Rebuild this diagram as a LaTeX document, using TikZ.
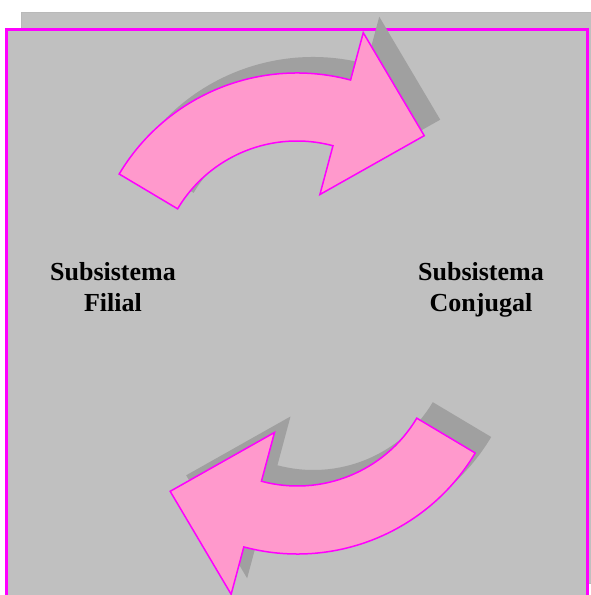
\documentclass[tikz,border=0pt]{standalone}
\usepackage{fontspec}
\setmainfont{Liberation Serif}
\usepackage{tikz}

\definecolor{panelgray}{RGB}{192,192,192}
\definecolor{framepink}{RGB}{255,0,255}
\definecolor{arrowpink}{RGB}{255,153,204}
\definecolor{shadowgray}{RGB}{160,160,160}

\tikzstyle{panel} = [fill=panelgray, draw=framepink, line width=3pt]
\tikzstyle{backpanel} = [fill=panelgray, draw=gray!55, line width=0.8pt]
\tikzstyle{bodyarrow} = [fill=arrowpink, draw=framepink, line width=1.5pt]
\tikzstyle{shadowarrow} = [fill=shadowgray]
\tikzstyle{subsys} = [align=center, inner sep=0pt, anchor=north, font=\bfseries\fontsize{26}{31}\selectfont]

\tikzset{bentarrow/.pic={
  \path[pic actions] (149.2:207) arc[start angle=149.2, end angle=75, radius=207]
    -- (75:256) -- (48.6:192.4) -- (75:88.5) -- (75:139)
    arc[start angle=75, end angle=149.2, radius=139] -- cycle;
}}

\begin{document}
\begin{tikzpicture}[x=1pt, y=1pt]
\useasboundingbox (0,0) rectangle (591,595);

\path[backpanel] (21,583) rectangle (596,12);
\path[panel] (6.5,565) rectangle (587,-10);

% upper arrow, shadow first
\pic[shadowarrow] at (313,331) {bentarrow};
\pic[bodyarrow] at (297,315) {bentarrow};

% lower arrow, turned round
\pic[shadowarrow, rotate=180] at (313.4,264) {bentarrow};
\pic[bodyarrow, rotate=180] at (297.4,248) {bentarrow};

\node (filial) [subsys] at (113,333) {Subsistema\\Filial};
\node (conjugal) [subsys] at (481,333) {Subsistema\\Conjugal};

\end{tikzpicture}
\end{document}
